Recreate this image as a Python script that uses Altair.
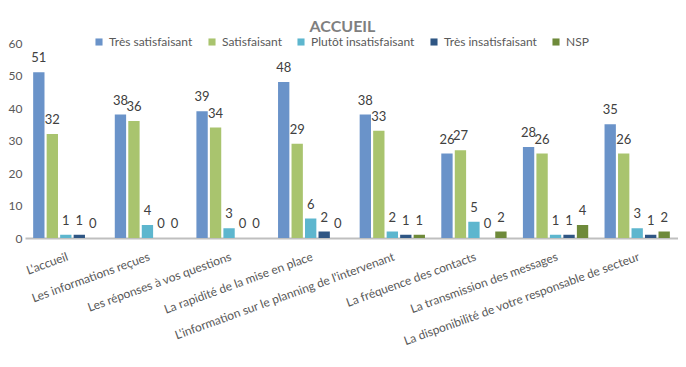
import altair as alt
import pandas as pd

categories = [
    "L'accueil",
    "Les informations reçues",
    "Les réponses à vos questions",
    "La rapidité de la mise en place",
    "L'information sur le planning de l'intervenant",
    "La fréquence des contacts",
    "La transmission des messages",
    "La disponibilité de votre responsable de secteur",
]
series = ["Très satisfaisant", "Satisfaisant", "Plutôt insatisfaisant", "Très insatisfaisant", "NSP"]
tres_satisfaisant = [51, 38, 39, 48, 38, 26, 28, 35]
satisfaisant = [32, 36, 34, 29, 33, 27, 26, 26]
plutot_insatisfaisant = [1, 4, 3, 6, 2, 5, 1, 3]
tres_insatisfaisant = [1, 0, 0, 2, 1, 0, 1, 1]
nsp = [0, 0, 0, 0, 1, 2, 4, 2]
y_ticks = [0, 10, 20, 30, 40, 50, 60]
colors = ["#6a93c9", "#a9c46e", "#5db6ce", "#2f5684", "#6e8a3a"]

values = [tres_satisfaisant, satisfaisant, plutot_insatisfaisant, tres_insatisfaisant, nsp]
rows = []
for s, vals in zip(series, values):
    for c, v in zip(categories, vals):
        rows.append({"cat": c, "serie": s, "val": v})
df = pd.DataFrame(rows)

FONT = "Lato"
x = alt.X("cat:N", sort=categories, title=None,
          scale=alt.Scale(paddingInner=0.2, paddingOuter=0.1),
          axis=alt.Axis(labelAngle=-20, labelAlign="right", labelBaseline="top",
                        labelFontSize=12, labelColor="#595959", labelFont=FONT,
                        labelPadding=13, ticks=False, domainColor="#bfbfbf",
                        domainWidth=2, labelLimit=400))
xo = alt.XOffset("serie:N", sort=series, scale=alt.Scale(paddingInner=0.16, paddingOuter=0))
y = alt.Y("val:Q", title=None, scale=alt.Scale(domain=[0, 60]),
          axis=alt.Axis(values=y_ticks, grid=False, domain=False, labelOverlap=False,
                        ticks=False, labelFontSize=12, labelColor="#595959",
                        labelFont=FONT, labelPadding=3))

base = alt.Chart(df).encode(x=x, xOffset=xo, y=y)

bars = base.mark_bar().encode(
    color=alt.Color("serie:N", sort=series, title=None,
                    scale=alt.Scale(domain=series, range=colors),
                    legend=alt.Legend(orient="none", legendX=68, legendY=-7,
                                      direction="horizontal", symbolType="square",
                                      symbolSize=50, symbolStrokeWidth=0,
                                      labelFontSize=12, labelColor="#595959",
                                      labelFont=FONT, columnPadding=13, labelLimit=200)),
)

labels = base.mark_text(dy=-14, fontSize=13, color="#404040", font=FONT).encode(
    text=alt.Text("val:Q"),
)

chart = (bars + labels).properties(
    width=653, height=195,
    autosize=alt.AutoSizeParams(type="none"),
    padding={"left": 17, "top": 35, "right": 0, "bottom": 120},
    title=alt.TitleParams("ACCUEIL", anchor="middle", fontSize=16, fontWeight="bold",
                          color="#7f7f7f", font=FONT, offset=1, dx=-9),
).configure_view(stroke=None)

chart.save("out.html", embed_options={"renderer": "svg", "actions": False})
